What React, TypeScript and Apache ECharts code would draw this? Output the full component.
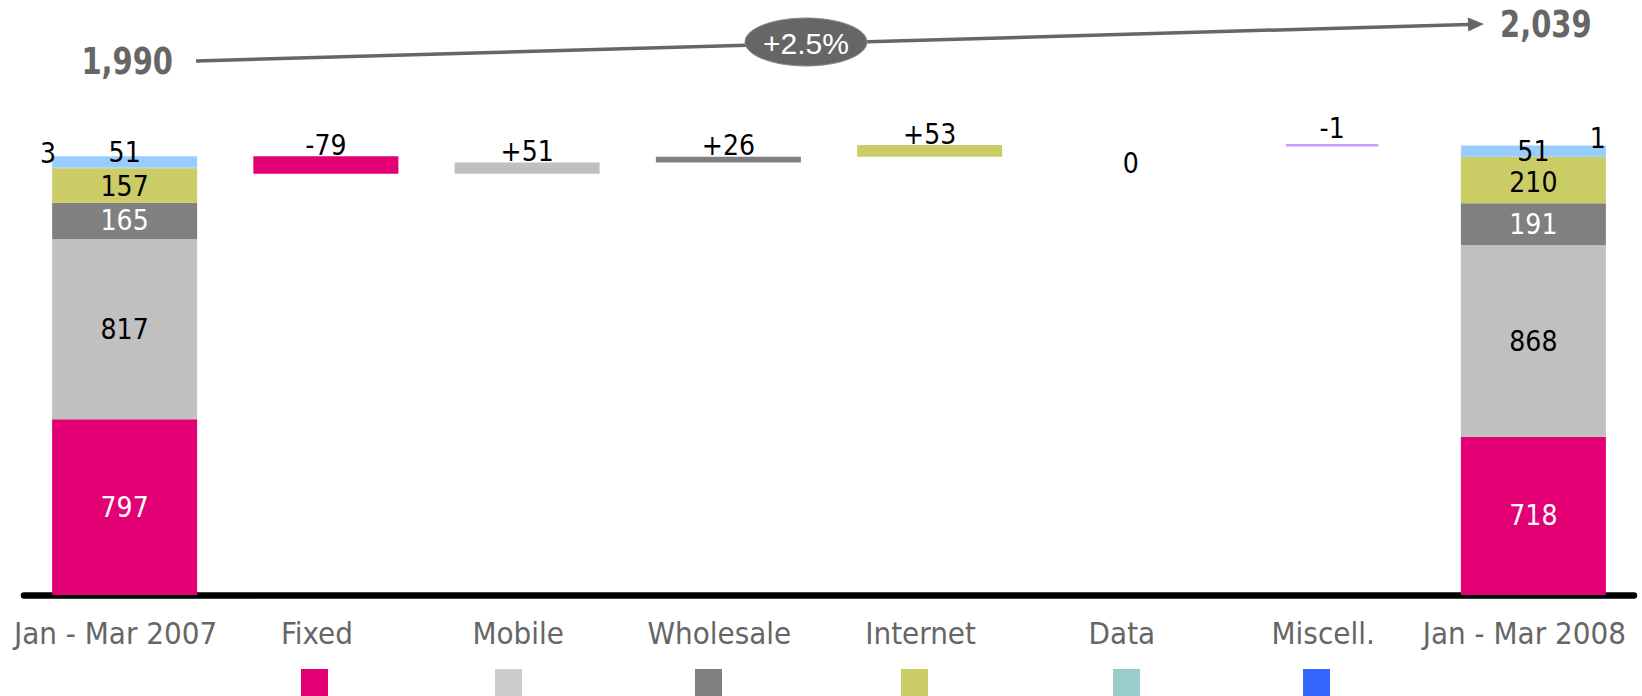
import React, { useEffect, useRef } from 'react';
import * as echarts from 'echarts';

const categories = ['Jan - Mar 2007', 'Fixed', 'Mobile', 'Wholesale', 'Internet', 'Data', 'Miscell.', 'Jan - Mar 2008'];
const segmentNames = ['Fixed', 'Mobile', 'Wholesale', 'Internet', 'Data', 'Miscell.'];
const start2007 = [797, 817, 165, 157, 3, 51];
const end2008 = [718, 868, 191, 210, 1, 51];
const deltas = [-79, 51, 26, 53, 0, -1];
const segmentColors = ['#E20074', '#C0C0C0', '#808080', '#CCCC66', '#99CCCC', '#99CCFF'];
const deltaColors = ['#E20074', '#C0C0C0', '#808080', '#CCCC66', '#99CCCC', '#CC99FF'];
const legendColors = ['#E20074', '#CCCCCC', '#808080', '#CCCC66', '#99CCCC', '#3366FF'];
const segmentLabelColors = ['#FFFFFF', '#000000', '#FFFFFF', '#000000', '#000000', '#000000'];
const legendX = [301, 495, 695, 901, 1113, 1303];

const NARROW = "'DejaVu Sans Condensed', 'Liberation Sans', sans-serif";
const REGULAR = "'Liberation Sans', Arial, sans-serif";
const LABEL_SIZE = 28;

const sum = (a: number[]) => a.reduce((s, v) => s + v, 0);
const fmtDelta = (d: number) => (d > 0 ? '+' + d : String(d));

export default function App() {
  const ref = useRef<HTMLDivElement>(null);

  useEffect(() => {
    if (!ref.current) return;
    const chart = echarts.init(ref.current, undefined, { renderer: 'svg' });

    const startTotal = sum(start2007);
    const endTotal = sum(end2008);
    const growth = ((endTotal / startTotal - 1) * 100).toFixed(1);

    const n = categories.length;
    const lastIdx = n - 1;

    const segmentSeries = segmentNames.map((name, k) => {
      const data: any[] = new Array(n).fill('-');
      data[0] = { value: start2007[k] };
      data[lastIdx] = { value: end2008[k] };
      if (name === 'Data') {
        data[0].label = { position: 'left', distance: -4, offset: [0, -14] };
        data[lastIdx].label = { position: 'insideRight', distance: 0, offset: [0, -18] };
      }
      if (name === 'Miscell.') {
        data[0].label = { offset: [0, -9] };
        data[lastIdx].label = { offset: [0, 0] };
      }
      if (name === 'Internet') {
        data[0].label = { offset: [0, 1] };
        data[lastIdx].label = { offset: [0, 2] };
      }
      return {
        name,
        type: 'bar',
        stack: 'total',
        barWidth: 145,
        itemStyle: { color: segmentColors[k] },
        label: {
          show: true,
          position: 'inside',
          color: segmentLabelColors[k],
          fontSize: LABEL_SIZE,
          lineHeight: 24,
          fontFamily: NARROW,
          formatter: '{c}',
        },
        data,
      };
    });

    const baseData: any[] = new Array(n).fill('-');
    const changeData: any[] = new Array(n).fill('-');
    let running = startTotal;
    const customData: number[][] = [];
    deltas.forEach((d, i) => {
      const idx = i + 1;
      const next = running + d;
      if (segmentNames[i] === 'Miscell.') {
        customData.push([idx, running, next, d]);
      } else {
        baseData[idx] = Math.min(running, next);
        const item: any = {
          value: Math.abs(d),
          itemStyle: { color: deltaColors[i] },
          delta: d,
        };
        if (d === 0) item.label = { position: 'bottom', distance: 4 };
        changeData[idx] = item;
      }
      running = next;
    });

    const option: any = {
      animation: false,
      textStyle: { fontFamily: NARROW },
      grid: { left: 24, right: 8, top: 110, bottom: 101, containLabel: false },
      xAxis: {
        type: 'category',
        data: categories,
        offset: 3.5,
        axisTick: { show: false },
        axisLine: { lineStyle: { color: '#000000', width: 6.5, cap: 'round' } },
        axisLabel: {
          interval: 0,
          fontSize: 31,
          color: '#666666',
          fontFamily: NARROW,
          margin: 19,
          padding: [0, 18, 0, 0],
        },
      },
      yAxis: {
        type: 'value',
        min: 0,
        max: 2200,
        show: false,
        splitLine: { show: false },
      },
      series: [
        ...segmentSeries,
        {
          name: 'base',
          type: 'bar',
          stack: 'total',
          itemStyle: { color: 'transparent' },
          emphasis: { disabled: true },
          data: baseData,
        },
        {
          name: 'change',
          type: 'bar',
          stack: 'total',
          label: {
            show: true,
            position: 'top',
            distance: -3,
            color: '#000000',
            fontSize: LABEL_SIZE,
            fontFamily: NARROW,
            formatter: (p: any) => fmtDelta(p.data.delta),
          },
          data: changeData,
        },
        {
          name: 'miscChange',
          type: 'custom',
          data: customData,
          renderItem: (params: any, api: any) => {
            const x = api.value(0);
            const y = (api.value(1) + api.value(2)) / 2;
            const p = api.coord([x, y]);
            const w = api.size([1, 0])[0] * 0.46;
            const d = api.value(3);
            return {
              type: 'group',
              children: [
                {
                  type: 'line',
                  shape: { x1: p[0] - w / 2, y1: p[1], x2: p[0] + w / 2, y2: p[1] },
                  style: { stroke: '#CC99FF', lineWidth: 2.5 },
                },
                {
                  type: 'text',
                  style: {
                    text: fmtDelta(d),
                    x: p[0],
                    y: p[1] - 3,
                    align: 'center',
                    verticalAlign: 'bottom',
                    fill: '#000000',
                    fontSize: LABEL_SIZE,
                    fontFamily: NARROW,
                  },
                },
              ],
            };
          },
        },
      ],
      graphic: [
        {
          type: 'line',
          shape: { x1: 196, y1: 61, x2: 1468, y2: 24.5 },
          style: { stroke: '#666666', lineWidth: 3.5 },
        },
        {
          type: 'polygon',
          shape: { points: [[1484, 24], [1468.2, 31.5], [1467.8, 17.5]] },
          style: { fill: '#666666' },
        },
        {
          type: 'ellipse',
          shape: { cx: 806, cy: 42, rx: 61, ry: 24 },
          style: { fill: '#666666', stroke: '#8a8a8a', lineWidth: 1 },
        },
        {
          type: 'text',
          x: 806,
          y: 43,
          style: {
            text: '+' + growth + '%',
            align: 'center',
            verticalAlign: 'middle',
            fill: '#FFFFFF',
            fontSize: 30,
            fontFamily: REGULAR,
          },
        },
        {
          type: 'text',
          x: 173,
          y: 61,
          scaleX: 0.87,
          style: {
            text: startTotal.toLocaleString('en-US'),
            align: 'right',
            verticalAlign: 'middle',
            fill: '#666666',
            fontSize: 37,
            fontWeight: 'bold',
            fontFamily: NARROW,
          },
        },
        {
          type: 'text',
          x: 1500,
          y: 24,
          scaleX: 0.87,
          style: {
            text: endTotal.toLocaleString('en-US'),
            align: 'left',
            verticalAlign: 'middle',
            fill: '#666666',
            fontSize: 37,
            fontWeight: 'bold',
            fontFamily: NARROW,
          },
        },
        ...legendX.map((x, i) => ({
          type: 'rect',
          shape: { x, y: 669, width: 27, height: 30 },
          style: { fill: legendColors[i] },
        })),
      ],
    };

    chart.setOption(option);
    return () => chart.dispose();
  }, []);

  return (
    <div
      ref={ref}
      style={{ position: 'fixed', left: 0, top: 0, width: 1642, height: 696, background: '#FFFFFF' }}
    />
  );
}
